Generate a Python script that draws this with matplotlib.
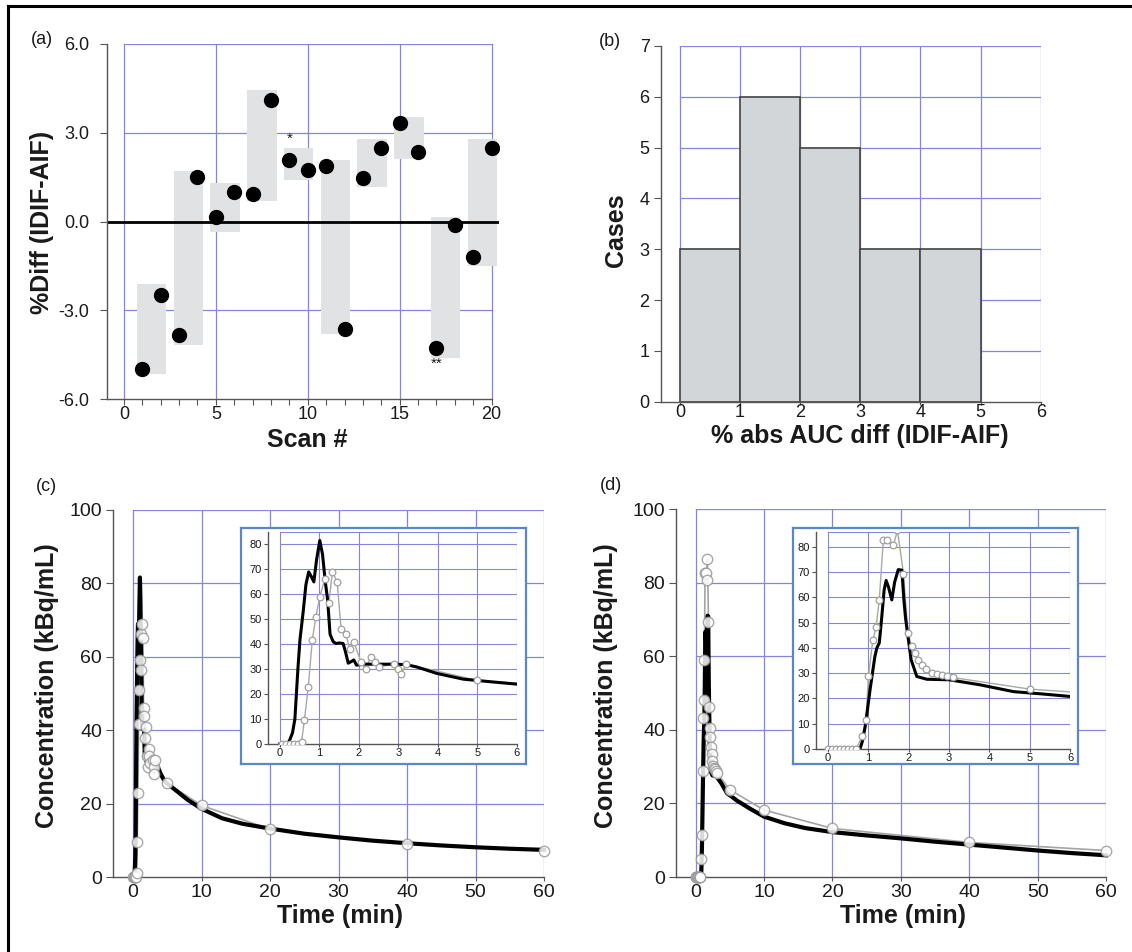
import matplotlib
matplotlib.use('Agg')
import matplotlib.pyplot as plt
from matplotlib.lines import Line2D
from matplotlib.ticker import FormatStrFormatter
import numpy as np

plt.rcParams['font.family'] = ['Liberation Sans', 'DejaVu Sans']

# ---------------- data ----------------
# (a) % difference per scan
scan = list(range(1, 21))
pct_diff = [-5.0, -2.49, -3.85, 1.52, 0.15, 1.0, 0.92, 4.12, 2.09, 1.74,
            1.89, -3.63, 1.46, 2.49, 3.34, 2.34, -4.27, -0.12, -1.19, 2.5]
# grey bands per pair of scans (subject)
pair_lo = [-5.15, -4.19, -0.34, 0.69, 1.39, -3.81, 1.18, 2.11, -4.61, -1.49]
pair_hi = [-2.11, 1.70, 1.29, 4.46, 2.47, 2.08, 2.79, 3.54, 0.16, 2.78]
star1_scan, star1_y = 9, 2.78
star2_scan, star2_y = 17, -4.8

# (b) histogram of % abs AUC diff
bin_edges = [0, 1, 2, 3, 4, 5]
cases = [3, 6, 5, 3, 3]

# (c) IDIF (black) and AIF samples (grey)
c_idif_t = [0, 0.2, 0.26, 0.32, 0.38, 0.46, 0.51, 0.59, 0.66, 0.73, 0.8, 0.86,
            0.93, 1.01, 1.08, 1.15, 1.21, 1.27, 1.35, 1.42, 1.5, 1.6, 1.66,
            1.73, 1.8, 1.87, 1.94, 2.1, 2.5, 2.95, 3.2, 3.46, 3.97, 4.64, 5.3,
            6.0, 8, 10, 13, 16, 20, 25, 30, 35, 40, 45, 50, 55, 60]
c_idif_v = [0, 0, 2, 4.5, 10, 31, 42, 53, 64, 69, 67, 65,
            74, 81.6, 76, 65, 57.6, 44, 41, 40.3, 40.5, 40.3, 37,
            32.4, 33, 33.7, 31.6, 32, 32, 32, 31.8, 30.9, 28.3, 26, 25,
            24, 21, 18.6, 16, 14.5, 13.2, 11.8, 10.8, 9.9, 9.2, 8.6, 8.1, 7.7, 7.4]
c_aif_t = [0.05, 0.15, 0.25, 0.35, 0.45, 0.55, 0.62, 0.72, 0.82, 0.91, 1.01,
           1.14, 1.24, 1.33, 1.45, 1.55, 1.67, 1.77, 1.87, 2.05, 2.17, 2.3,
           2.4, 2.51, 2.9, 3.0, 3.07, 3.2, 5.0, 10, 20, 40, 60]
c_aif_v = [0, 0, 0, 0, 0, 1, 9.5, 23, 41.6, 51, 59,
           66.3, 56.5, 69, 65, 46, 44, 38, 41, 33, 30, 35,
           33, 31, 32, 30, 28, 32, 25.5, 19.5, 13, 9, 7.1]

# (d) IDIF (black) and AIF samples (grey)
d_idif_t = [0, 0.79, 0.85, 0.92, 0.98, 1.04, 1.1, 1.16, 1.21, 1.27, 1.33, 1.39,
            1.44, 1.5, 1.58, 1.65, 1.74, 1.83, 1.88, 1.92, 1.97, 2.06, 2.2,
            2.45, 3.0, 3.77, 4.6, 5.3, 6.0, 8, 10, 13, 16, 20, 25, 30, 35, 40,
            45, 50, 55, 60]
d_idif_v = [0, 0, 3, 8.9, 16, 23.4, 30, 36.6, 40, 42, 52, 63,
            66.7, 64, 59, 66, 71, 70.8, 59, 52, 45.8, 35.3, 28.7,
            27.6, 27.4, 25.4, 22.7, 21.8, 20.8, 18.5, 16.4, 14.6, 13.3, 12.2,
            11.3, 10.5, 9.6, 8.8, 8.0, 7.2, 6.5, 5.9]
d_aif_t = [0, 0.1, 0.2, 0.3, 0.4, 0.5, 0.6, 0.7, 0.84, 0.94, 1.0, 1.11, 1.19,
           1.27, 1.37, 1.47, 1.62, 1.72, 1.87, 1.98, 2.07, 2.15, 2.23, 2.34,
           2.44, 2.57, 2.69, 2.82, 2.94, 3.09, 5.0, 10, 20, 40, 60]
d_aif_v = [0, 0, 0, 0, 0, 0, 0, 0, 5, 11.5, 28.7, 43.2, 48.2,
           59.1, 82.7, 82.7, 80.7, 86.5, 69.4, 46.1, 40.6, 38, 35.3, 33.3,
           31.6, 30.2, 29.7, 29.3, 28.9, 28.3, 23.7, 18.2, 13.2, 9.4, 7.2]

# ---------------- figure ----------------
W, H = 1132, 952
fig = plt.figure(figsize=(W / 100, H / 100), dpi=100)

GRID = '#8585e0'
SPINE = '#555555'
TXT = '#1a1a1a'
FRAME = '#5b87c2'


def ax_px(left, top, right, bottom, **kw):
    return fig.add_axes([left / W, 1 - bottom / H, (right - left) / W,
                         (bottom - top) / H], **kw)


def style(ax, size, ticklen=5, pad=3):
    for s in ('top', 'right'):
        ax.spines[s].set_visible(False)
    for s in ('left', 'bottom'):
        ax.spines[s].set_color(SPINE)
        ax.spines[s].set_linewidth(1.0)
    ax.tick_params(axis='both', which='both', direction='out', colors=SPINE,
                   labelcolor=TXT, labelsize=size, length=ticklen, width=0.8,
                   pad=pad)
    ax.set_facecolor('none')


def grid_box(ax, xs, ys, x0, x1, y0, y1, lw=0.9):
    for x in xs:
        ax.plot([x, x], [y0, y1], color=GRID, lw=lw, zorder=0.5)
    for y in ys:
        ax.plot([x0, x1], [y, y], color=GRID, lw=lw, zorder=0.5)


# ---- (a) ----
ax = ax_px(107, 44, 499, 399)
style(ax, 13, ticklen=5, pad=8)
ax.set_xlim(-0.92, 20.4)
ax.set_ylim(-6, 6)
grid_box(ax, [0, 5, 10, 15, 20], [-3, 3, 6], 0, 20, -6, 6)
centers = [(scan[2 * k] + scan[2 * k + 1]) / 2 for k in range(len(pair_lo))]
heights = [h - l for h, l in zip(pair_hi, pair_lo)]
ax.bar(centers, heights, bottom=pair_lo, width=1.6, color='#e1e2e4',
       zorder=1, linewidth=0)
ax.axhline(0, color='black', lw=2, zorder=2)
ax.plot(scan, pct_diff, 'o', color='black', ms=10, zorder=3)
ax.text(star1_scan, star1_y, '*', ha='center', va='center', fontsize=11,
        color=TXT)
ax.text(star2_scan, star2_y, '**', ha='center', va='center', fontsize=11,
        color=TXT)
ax.set_xticks([0, 5, 10, 15, 20])
ax.set_xticks(range(0, 21), minor=True)
ax.tick_params(axis='x', which='both', length=4, pad=1)
ax.set_yticks([-6, -3, 0, 3, 6])
ax.yaxis.set_major_formatter(FormatStrFormatter('%.1f'))
ax.spines['bottom'].set_bounds(-0.92, 20)

# ---- (b) ----
ax = ax_px(660.7, 46, 1040.7, 401.7)
style(ax, 13, ticklen=5, pad=3)
ax.set_xlim(-0.32, 6)
ax.set_ylim(0, 7)
grid_box(ax, range(0, 7), range(1, 8), 0, 6, 0, 7)
ax.bar(bin_edges[:len(cases)], cases, width=1, align='edge', color='#d3d6d9',
       edgecolor='#444444', linewidth=1.2, zorder=2)
ax.set_xticks(range(0, 7))
ax.set_yticks(range(0, 8))
ax.tick_params(axis='x', length=2, pad=0)


# ---- (c), (d) ----
def main_panel(box, xl, idif_t, idif_v, aif_t, aif_v):
    ax = ax_px(*box)
    style(ax, 14, ticklen=5, pad=3)
    ax.set_xlim(xl, 60)
    ax.set_ylim(0, 100)
    grid_box(ax, range(0, 61, 10), range(20, 101, 20), 0, 60, 0, 100)
    ax.plot(aif_t, aif_v, '-', color='#a4a4a4', lw=1.2, zorder=2, clip_on=False)
    ax.plot(idif_t, idif_v, '-', color='black', lw=3.0, zorder=3,
            solid_joinstyle='round', clip_on=False)
    ax.plot(aif_t, aif_v, 'o', mfc='white', mec='#9a9a9a', mew=1.0, ms=7.5,
            alpha=0.85, zorder=4, clip_on=False)
    ax.set_xticks(range(0, 61, 10))
    ax.set_yticks(range(0, 101, 20))
    ax.tick_params(axis='x', length=3, pad=2)
    ax.spines['bottom'].set_bounds(xl, 60)
    return ax


def inset_panel(frame, box, ytop, idif_t, idif_v, aif_t, aif_v):
    fr = ax_px(*frame)
    fr.set_xticks([])
    fr.set_yticks([])
    fr.set_facecolor('white')
    for s in fr.spines.values():
        s.set_color(FRAME)
        s.set_linewidth(1.6)
    fr.set_zorder(5)
    ax = ax_px(*box)
    ax.set_zorder(6)
    style(ax, 8, ticklen=3, pad=1.5)
    ax.set_xlim(-0.3, 6)
    ax.set_ylim(0, ytop)
    grid_box(ax, range(0, 7), list(range(10, 81, 10)) + [ytop], 0, 6, 0, ytop,
             lw=0.8)
    ax.plot(idif_t, idif_v, '-', color='black', lw=2.2, zorder=3,
            solid_joinstyle='round')
    ax.plot(aif_t, aif_v, '-', color='#a8a8a8', lw=1.0, zorder=2)
    ax.plot(aif_t, aif_v, 'o', mfc='white', mec='#a0a0a0', mew=0.9, ms=4.8,
            zorder=4)
    ax.set_xticks(range(0, 7))
    ax.set_yticks(range(0, 81, 10))
    ax.tick_params(axis='x', length=2, pad=1)
    return ax


main_panel((113, 510, 544, 877), -2.92, c_idif_t, c_idif_v, c_aif_t, c_aif_v)
inset_panel((241, 528, 526, 764), (268, 532, 517, 744), 85,
            c_idif_t, c_idif_v, c_aif_t, c_aif_v)
main_panel((676, 509, 1106, 877), -2.88, d_idif_t, d_idif_v, d_aif_t, d_aif_v)
inset_panel((793, 528, 1078, 764), (816, 531.7, 1070, 749), 86,
            d_idif_t, d_idif_v, d_aif_t, d_aif_v)

# ---------------- text ----------------
def ftext(x, y, s, **kw):
    fig.text(x / W, 1 - y / H, s, color=TXT, **kw)


bold = dict(fontsize=18, fontweight='bold', ha='center', va='center')
ftext(307, 440, 'Scan #', **bold)
ftext(42, 222, '%Diff (IDIF-AIF)', rotation=90, **bold)
ftext(616, 230, 'Cases', rotation=90, **bold)
ftext(860, 436, '% abs AUC diff (IDIF-AIF)', **bold)
ftext(340, 916, 'Time (min)', **bold)
ftext(903, 916, 'Time (min)', **bold)
ftext(47, 686, 'Concentration (kBq/mL)', rotation=90, **bold)
ftext(606, 686, 'Concentration (kBq/mL)', rotation=90, **bold)

lab = dict(fontsize=13, ha='center', va='center')
ftext(42, 40, '(a)', **lab)
ftext(610, 41, '(b)', **lab)
ftext(46, 487, '(c)', **lab)
ftext(611, 486, '(d)', **lab)

# outer frame (left and top edges)
fig.add_artist(Line2D([8 / W, 8 / W], [0, 1 - 6 / H], transform=fig.transFigure,
                      color='black', lw=2.2))
fig.add_artist(Line2D([8 / W, 1], [1 - 6 / H, 1 - 6 / H],
                      transform=fig.transFigure, color='black', lw=2.2))

fig.savefig('out.png', dpi=100, facecolor='white')
